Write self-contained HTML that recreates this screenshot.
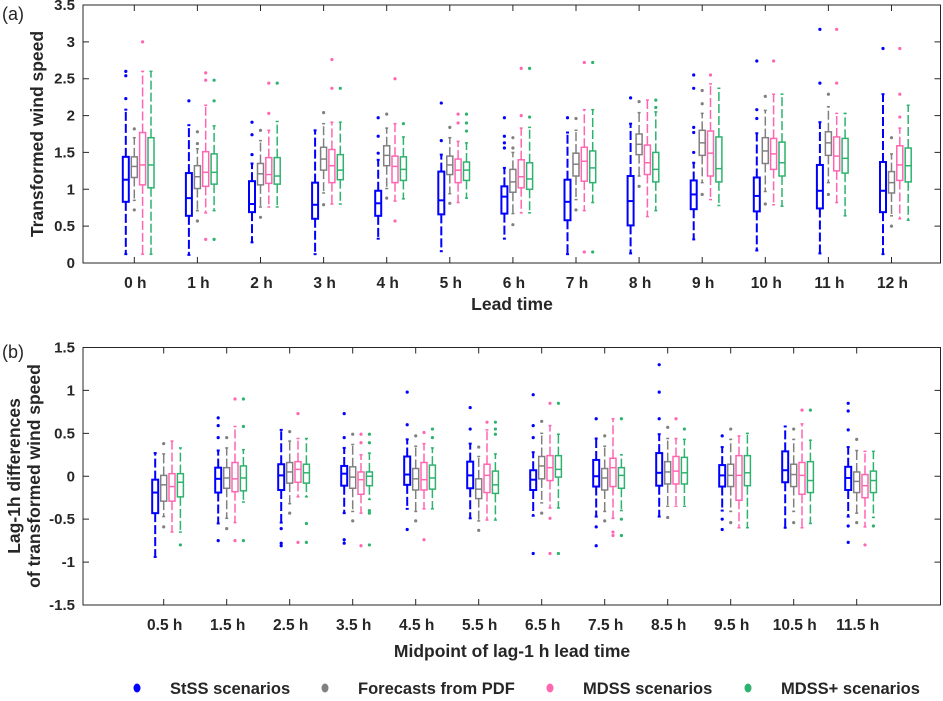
<!DOCTYPE html>
<html><head><meta charset="utf-8"><style>
html,body{margin:0;padding:0;background:#fff;}
svg text{font-family:"Liberation Sans",Arial,sans-serif;}
</style></head><body>
<svg id="chart" width="943" height="696" viewBox="0 0 943 696" xmlns="http://www.w3.org/2000/svg">
<g id="top"></g>
<g id="bot"></g>
<g id="legend"></g>
</svg>
<script>
// ---------- Data ----------
const seriesNames = ["StSS scenarios","Forecasts from PDF","MDSS scenarios","MDSS+ scenarios"];
const seriesColors = ["#0000ff","#808080","#ff66b2","#2db36e"];
const topCategories = ["0 h","1 h","2 h","3 h","4 h","5 h","6 h","7 h","8 h","9 h","10 h","11 h","12 h"];
const topTicks = [0,0.5,1,1.5,2,2.5,3,3.5];
// [lowWhisker, q1, median, q3, highWhisker]
const topStSS = [[0.12,0.83,1.13,1.44,2.08],[0.11,0.64,0.88,1.22,1.87],[0.28,0.69,0.80,1.11,1.35],[0.12,0.60,0.79,1.09,1.80],[0.33,0.64,0.81,0.98,1.40],[0.16,0.66,0.85,1.24,1.47],[0.33,0.67,0.90,1.04,1.29],[0.12,0.58,0.83,1.13,1.77],[0.13,0.51,0.84,1.18,1.89],[0.32,0.73,0.93,1.12,1.36],[0.17,0.70,0.91,1.16,1.76],[0.13,0.74,0.98,1.33,1.91],[0.12,0.69,0.98,1.37,2.29]];
const topPDF = [[0.85,1.16,1.31,1.44,1.70],[0.71,1.01,1.17,1.32,1.55],[0.76,1.06,1.21,1.35,1.66],[0.95,1.26,1.41,1.57,1.89],[1.01,1.32,1.46,1.59,1.83],[0.94,1.20,1.33,1.45,1.70],[0.67,0.96,1.10,1.27,1.50],[0.86,1.18,1.34,1.49,1.80],[1.18,1.47,1.61,1.75,2.04],[1.09,1.46,1.63,1.80,2.03],[0.97,1.35,1.52,1.70,2.07],[1.09,1.46,1.63,1.78,2.12],[0.64,0.95,1.09,1.24,1.48]];
const topMDSS = [[0.12,1.06,1.33,1.77,2.60],[0.68,1.04,1.23,1.51,2.14],[0.76,1.08,1.20,1.43,1.80],[0.80,1.09,1.32,1.54,1.91],[0.84,1.09,1.31,1.45,1.89],[0.82,1.09,1.26,1.41,1.65],[0.68,1.02,1.17,1.40,1.83],[0.71,1.11,1.38,1.57,2.08],[0.63,1.20,1.36,1.60,2.21],[0.86,1.18,1.49,1.79,2.43],[0.79,1.27,1.48,1.69,2.29],[0.82,1.25,1.45,1.71,2.03],[0.60,1.12,1.33,1.59,1.83]];
const topMDSSp = [[0.12,1.02,1.33,1.70,2.60],[0.71,1.07,1.23,1.48,1.86],[0.76,1.07,1.18,1.43,1.92],[0.80,1.13,1.26,1.47,1.91],[0.87,1.12,1.27,1.44,1.71],[0.88,1.12,1.26,1.37,1.63],[0.68,1.00,1.14,1.36,1.84],[0.82,1.09,1.29,1.52,2.08],[0.71,1.10,1.27,1.50,2.05],[0.78,1.10,1.28,1.71,2.37],[0.77,1.18,1.36,1.64,2.29],[0.64,1.22,1.42,1.69,2.03],[0.58,1.10,1.32,1.56,2.14]];
const topOutStSS = [[2.6,2.54,2.23],[2.2],[1.91,1.74,1.47],[],[1.97,1.72,1.49],[2.17,1.66],[1.97,1.72,1.63,1.56],[1.97],[2.24],[2.55,2.37,1.84,1.77,1.5],[2.74,2.08,1.96],[3.17,2.44],[2.91]];
const topOutPDF = [[1.82,0.72],[1.78,1.62,0.57],[1.8,0.62],[2.04,0.79],[2.02,0.88],[1.84,0.81],[1.7,1.56,0.52],[1.96,0.72],[2.19,1.04],[2.34,2.16,0.93],[2.26,0.8],[2.29,0.93],[1.7,0.5]];
const topOutMDSS = [[3.0],[2.58,2.48,0.32],[2.44,2.03],[2.76,2.37],[2.5,0.57],[2.02,1.9],[2.64,2.0],[2.72,0.15],[],[2.55],[2.74],[3.17,2.44],[2.91,2.29,1.98]];
const topOutMDSSp = [[],[2.48,2.2,0.32],[2.44],[2.37],[1.89],[2.02,1.9,1.79],[2.64,1.98],[2.72,0.15],[2.21,2.11],[],[],[],[]];

const botCategories = ["0.5 h","1.5 h","2.5 h","3.5 h","4.5 h","5.5 h","6.5 h","7.5 h","8.5 h","9.5 h","10.5 h","11.5 h"];
const botTicks = [-1.5,-1,-0.5,0,0.5,1,1.5];
const botStSS = [[-0.94,-0.43,-0.19,-0.04,0.27],[-0.55,-0.19,-0.03,0.10,0.30],[-0.54,-0.16,0.01,0.14,0.54],[-0.43,-0.11,0.03,0.12,0.33],[-0.38,-0.10,0.02,0.23,0.43],[-0.49,-0.14,0.01,0.17,0.38],[-0.46,-0.16,-0.04,0.07,0.28],[-0.47,-0.12,0.00,0.19,0.44],[-0.47,-0.11,0.04,0.27,0.49],[-0.40,-0.12,0.01,0.13,0.34],[-0.60,-0.07,0.07,0.29,0.58],[-0.47,-0.16,-0.02,0.11,0.34]];
const botPDF = [[-0.47,-0.29,-0.10,0.01,0.26],[-0.49,-0.14,-0.02,0.10,0.33],[-0.32,-0.08,0.05,0.16,0.41],[-0.41,-0.14,-0.01,0.11,0.37],[-0.41,-0.16,-0.03,0.09,0.35],[-0.52,-0.26,-0.15,-0.03,0.23],[-0.31,-0.03,0.12,0.23,0.50],[-0.41,-0.16,-0.02,0.09,0.35],[-0.35,-0.09,0.05,0.17,0.44],[-0.41,-0.12,0.01,0.14,0.43],[-0.41,-0.12,0.02,0.14,0.43],[-0.43,-0.19,-0.06,0.05,0.30]];
const botMDSS = [[-0.65,-0.29,-0.12,0.03,0.41],[-0.54,-0.18,-0.03,0.16,0.58],[-0.24,-0.07,0.08,0.17,0.44],[-0.43,-0.21,-0.04,0.05,0.25],[-0.38,-0.16,-0.04,0.16,0.38],[-0.51,-0.19,0.01,0.14,0.54],[-0.37,-0.05,0.10,0.24,0.59],[-0.49,-0.12,0.10,0.21,0.67],[-0.35,-0.09,0.06,0.23,0.44],[-0.60,-0.28,0.01,0.24,0.47],[-0.60,-0.21,0.01,0.16,0.61],[-0.59,-0.25,-0.11,0.02,0.29]];
const botMDSSp = [[-0.65,-0.24,-0.07,0.03,0.33],[-0.30,-0.17,-0.02,0.12,0.31],[-0.24,-0.08,0.04,0.14,0.44],[-0.27,-0.11,0.00,0.05,0.27],[-0.38,-0.15,-0.02,0.13,0.33],[-0.51,-0.20,-0.10,0.06,0.26],[-0.37,-0.01,0.08,0.24,0.49],[-0.40,-0.14,0.01,0.10,0.25],[-0.35,-0.09,0.04,0.22,0.43],[-0.60,-0.11,0.04,0.24,0.50],[-0.55,-0.19,-0.05,0.17,0.42],[-0.48,-0.19,-0.05,0.06,0.29]];
const botOutStSS = [[],[0.68,0.59,0.45,-0.75],[-0.61,-0.78,-0.81],[0.73,0.45,-0.74,-0.78],[0.98,0.60,-0.62],[0.80,0.55],[0.95,0.59,0.45,-0.9],[0.67,-0.59,-0.81],[1.30,0.98,0.67],[0.47,-0.5,-0.62],[],[0.85,0.76,0.54,-0.58,-0.77]];
const botOutPDF = [[0.38,-0.59],[0.45,-0.61],[0.52,-0.43],[0.49,-0.52],[0.47,-0.52],[0.34,-0.63],[0.64,-0.43],[0.47,-0.52],[0.57,-0.48],[0.55,-0.54],[0.55,-0.54],[0.43,-0.54]];
const botOutMDSS = [[],[0.9,-0.75],[0.73,-0.77],[0.49,0.39,-0.81],[0.51,-0.74],[0.63],[0.85,-0.49,-0.9],[-0.65,-0.69],[0.67],[],[0.77],[-0.80]];
const botOutMDSSp = [[-0.80],[0.9,0.58,-0.75],[-0.55,-0.77],[0.49,0.39,-0.4,-0.43,-0.8],[0.55,0.45],[0.63,0.55,0.49],[0.85,-0.9],[0.67,-0.5,-0.69],[0.55],[],[0.77],[-0.58]];

// ---------- Drawing ----------
const NS = "http://www.w3.org/2000/svg";
function mk(parent, tag, attrs){
  const e = document.createElementNS(NS, tag);
  for (const k in attrs) e.setAttribute(k, attrs[k]);
  parent.appendChild(e);
  return e;
}
const offsets = [-8.5, 0, 8.3, 16.7];
const boxW = 6;

function drawPanel(g, cfg){
  const {L,R,T,B,ymin,ymax,x0,dx,cats,ticks,boxes,outs,tickFmt} = cfg;
  const ys = v => B - (v - ymin) / (ymax - ymin) * (B - T);
  const xs = i => x0 + i * dx;
  const frame = mk(g,'rect',{x:L,y:T,width:R-L,height:B-T,fill:'none',stroke:'#262626','stroke-width':1});
  
  
  ticks.forEach(t=>{
    const y = ys(t);
    const tl = mk(g,'path',{d:`M${L},${y}h6M${R},${y}h-6`,stroke:'#262626','stroke-width':1});
    
    
    const tx = mk(g,'text',{x:L-8,y:y+5,'text-anchor':'end','font-size':15,'font-weight':'bold',fill:'#262626'});
    tx.textContent = tickFmt(t);
    
    
  });
  cats.forEach((c,i)=>{
    const x = xs(i);
    const tl = mk(g,'path',{d:`M${x},${B}v-6M${x},${T}v6`,stroke:'#262626','stroke-width':1});
    
    
    const tx = mk(g,'text',{x:x+1,y:B+25,'text-anchor':'middle','font-size':15.5,'font-weight':'bold',fill:'#262626'});
    tx.textContent = c;
    
    
    for (let s=0;s<4;s++){
      const d = boxes[s][i], col = seriesColors[s], cx = x + offsets[s];
      const sw = s===0 ? 2 : 1.5;
      const bg = mk(g,'g',{});
      
      
      mk(bg,'line',{x1:cx,x2:cx,y1:ys(d[3]),y2:ys(d[4]),stroke:col,'stroke-width':sw,'stroke-dasharray':'9,3'});
      mk(bg,'line',{x1:cx,x2:cx,y1:ys(d[1]),y2:ys(d[0]),stroke:col,'stroke-width':sw,'stroke-dasharray':'9,3'});
      mk(bg,'line',{x1:cx-1.5,x2:cx+1.5,y1:ys(d[4]),y2:ys(d[4]),stroke:col,'stroke-width':sw});
      mk(bg,'line',{x1:cx-1.5,x2:cx+1.5,y1:ys(d[0]),y2:ys(d[0]),stroke:col,'stroke-width':sw});
      mk(bg,'rect',{x:cx-boxW/2,y:ys(d[3]),width:boxW,height:ys(d[1])-ys(d[3]),fill:'none',stroke:col,'stroke-width':sw});
      mk(bg,'line',{x1:cx-boxW/2,x2:cx+boxW/2,y1:ys(d[2]),y2:ys(d[2]),stroke:col,'stroke-width':sw});
      outs[s][i].forEach(v=>{
        const p = mk(bg,'circle',{cx:cx,cy:ys(v),r:1.6,fill:col});
        
        
      });
    }
  });
}
const fmt = t => String(t);
drawPanel(document.getElementById('top'),{L:83,R:940.5,T:5,B:263,ymin:0,ymax:3.5,x0:134.3,dx:63.1,
  cats:topCategories,ticks:topTicks,boxes:[topStSS,topPDF,topMDSS,topMDSSp],
  outs:[topOutStSS,topOutPDF,topOutMDSS,topOutMDSSp],tickFmt:fmt});
drawPanel(document.getElementById('bot'),{L:83,R:940.5,T:347.5,B:605,ymin:-1.5,ymax:1.5,x0:163.7,dx:63,
  cats:botCategories,ticks:botTicks,boxes:[botStSS,botPDF,botMDSS,botMDSSp],
  outs:[botOutStSS,botOutPDF,botOutMDSS,botOutMDSSp],tickFmt:fmt});

function label(parent,x,y,txt,name,opts){
  const t = mk(parent,'text',Object.assign({x:x,y:y,'font-size':17.5,'font-weight':'bold',fill:'#262626','text-anchor':'middle'},opts||{}));
  t.textContent = txt;
  
  
  return t;
}
const svg = document.getElementById('chart');
label(svg,2,20,'(a)','panel-a-label',{'text-anchor':'start','font-weight':'normal','font-size':18});
label(svg,2,358,'(b)','panel-b-label',{'text-anchor':'start','font-weight':'normal','font-size':18});
label(svg,43,134,'Transformed wind speed','y-axis-title-a',{transform:'rotate(-90 43 134)'});
label(svg,512,310,'Lead time','x-axis-title-a');
label(svg,20,476,'Lag-1h differences','y-axis-title-b-line1',{transform:'rotate(-90 20 476)'});
label(svg,40,476,'of transformed wind speed','y-axis-title-b-line2',{transform:'rotate(-90 40 476)'});
label(svg,512,657,'Midpoint of lag-1 h lead time','x-axis-title-b');

const lg = document.getElementById('legend');
const legX = [137,325,550,748];
seriesNames.forEach((n,i)=>{
  const e = mk(lg,'g',{});
  
  
  mk(e,'ellipse',{cx:legX[i],cy:688,rx:3.5,ry:4.5,fill:seriesColors[i]});
  const t = mk(e,'text',{x:legX[i]+33,y:694,'font-size':16.5,'font-weight':'bold',fill:'#262626'});
  t.textContent = n;
});
</script>
</body></html>
